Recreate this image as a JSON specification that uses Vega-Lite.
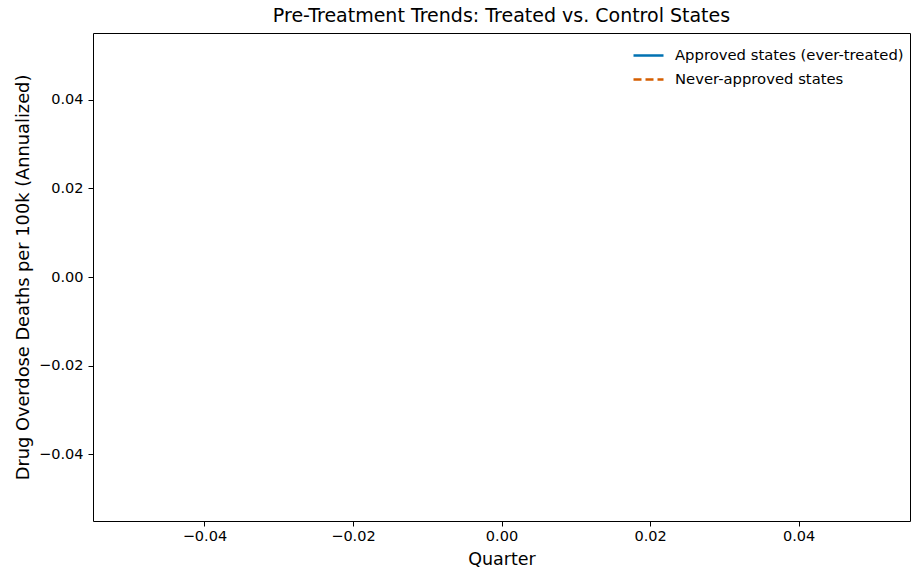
{
  "$schema": "https://vega.github.io/schema/vega-lite/v6.json",
  "autosize": "none",
  "width": 817,
  "height": 488,
  "padding": {"left": 93, "top": 33, "right": 1, "bottom": 53},
  "background": "white",
  "config": {
    "font": "DejaVu Sans",
    "view": {"stroke": "black", "strokeWidth": 1},
    "axis": {"grid": false, "domain": false, "tickColor": "black", "labelColor": "black", "titleColor": "black", "tickSize": 5, "labelFontSize": 14.5, "titleFontSize": 17.5, "titleFontWeight": "normal", "labelPadding": 4}
  },
  "title": {"text": "Pre-Treatment Trends: Treated vs. Control States", "offset": 7, "fontSize": 19, "fontWeight": "normal", "color": "black", "font": "DejaVu Sans"},
  "data": {
    "values": [
      {"quarter": null, "rate": null, "group": "Approved states (ever-treated)"},
      {"quarter": null, "rate": null, "group": "Never-approved states"}
    ]
  },
  "mark": {"type": "line", "strokeWidth": 2},
  "encoding": {
    "x": {"field": "quarter", "type": "quantitative", "title": "Quarter",
      "scale": {"domain": [-0.055, 0.055], "nice": false, "zero": false},
      "axis": {"values": [-0.04, -0.02, 0, 0.02, 0.04], "format": ".2f", "titlePadding": 8, "labelPadding": 3, "labelFontSize": 14.5, "titleFontSize": 17.5}},
    "y": {"field": "rate", "type": "quantitative", "title": "Drug Overdose Deaths per 100k (Annualized)",
      "scale": {"domain": [-0.055, 0.055], "nice": false, "zero": false},
      "axis": {"values": [-0.04, -0.02, 0, 0.02, 0.04], "format": ".2f", "titlePadding": 6, "labelPadding": 5, "labelFontSize": 14.5, "titleFontSize": 17.8}},
    "color": {"field": "group", "type": "nominal", "title": null,
      "scale": {"domain": ["Approved states (ever-treated)", "Never-approved states"], "range": ["#0072B2", "#D55E00"]},
      "legend": {"orient": "top-right", "offset": 6, "symbolType": "stroke", "symbolSize": 900, "symbolStrokeWidth": 2.5, "labelFontSize": 14.8, "labelLimit": 400, "rowPadding": -16, "labelOffset": 10, "labelColor": "black", "labelFont": "DejaVu Sans"}},
    "strokeDash": {"field": "group", "type": "nominal", "title": null,
      "scale": {"domain": ["Approved states (ever-treated)", "Never-approved states"], "range": [[1, 0], [8, 4]]}}
  }
}
